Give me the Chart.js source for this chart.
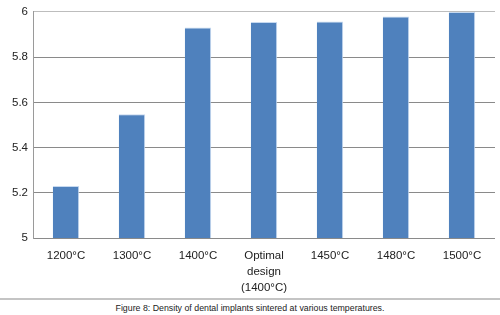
<!DOCTYPE html>
<html>
<head>
<meta charset="utf-8">
<script src="https://cdn.jsdelivr.net/npm/chart.js@4"></script>
<style>
  html, body { margin: 0; padding: 0; background: #fff; }
  #wrap { position: relative; width: 500px; height: 298px; }
  #caption {
    width: 500px; border-top: 2px solid #c4c4c4; text-align: center;
    font: 8.8px "Liberation Sans", Arial, sans-serif; color: #222;
    padding-top: 2px; line-height: 12px;
  }
</style>
</head>
<body>
<div id="wrap"><canvas id="density-bar" width="500" height="298"></canvas></div>
<div id="caption">Figure 8: Density of dental implants sintered at various temperatures.</div>
<script>
// 数据
const categories = ['1200°C', '1300°C', '1400°C', ['Optimal', 'design', '(1400°C)'], '1450°C', '1480°C', '1500°C'];
const densities = [5.23, 5.547, 5.931, 5.955, 5.958, 5.98, 6.0];
const yTicks = [5, 5.2, 5.4, 5.6, 5.8, 6];

const ctx = document.getElementById('density-bar');
new Chart(ctx, {
  type: 'bar',
  data: {
    labels: categories,
    datasets: [{
      data: densities,
      backgroundColor: '#4F81BD',
      borderColor: '#c6d9f0',
      borderWidth: { right: 1, top: 1 },
      categoryPercentage: 1,
      barPercentage: 0.4
    }]
  },
  options: {
    responsive: false,
    animation: false,
    layout: { padding: { left: 0, right: 5, top: 10, bottom: 0 } },
    plugins: { legend: { display: false }, tooltip: { enabled: false } },
    scales: {
      x: {
        grid: { display: false, drawTicks: false },
        border: { display: false },
        ticks: {
          color: '#222',
          font: { family: 'Liberation Sans', size: 11.5, lineHeight: 1.4 },
          padding: 10,
          maxRotation: 0,
          autoSkip: false
        },
        afterFit(scale) { scale.height = 60; }
      },
      y: {
        min: 5,
        max: 6,
        afterBuildTicks(scale) { scale.ticks = yTicks.map(v => ({ value: v })); },
        grid: {
          color: c => c.tick && c.tick.value === 6 ? '#bdbdbd' : '#8a8a8a',
          drawTicks: false
        },
        border: { display: true, color: '#9a9a9a' },
        ticks: {
          color: '#222',
          font: { family: 'Liberation Sans', size: 11.5 },
          padding: 5,
          callback: v => String(Math.round(v * 10) / 10)
        },
        afterFit(scale) { scale.width = 33; }
      }
    }
  }
});
</script>
</body>
</html>
